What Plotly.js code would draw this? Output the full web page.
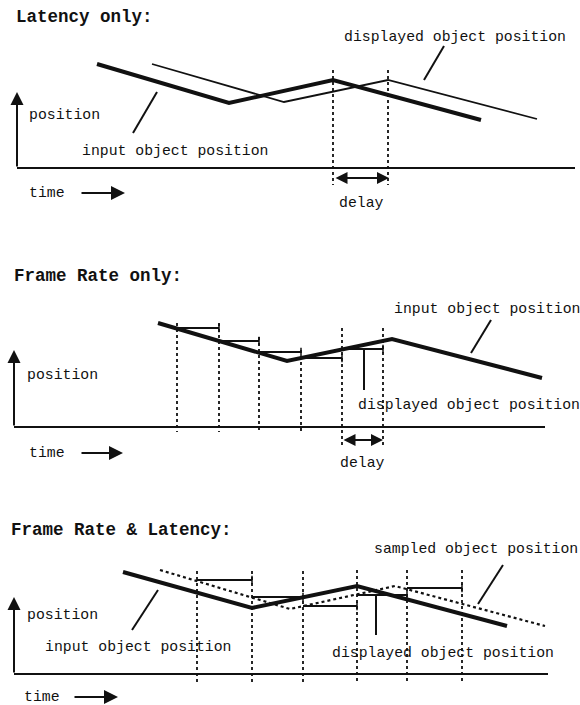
<!DOCTYPE html>
<html><head><meta charset="utf-8">
<script src="https://cdn.plot.ly/plotly-3.0.1.min.js"></script>
<style>html,body{margin:0;padding:0;background:#fff}</style>
</head><body><div id="chart" style="width:580px;height:705px"></div>
<script>
// ---------- DATA (time in x units, position above each panel's time axis) ----------
// Panel 1: Latency only
const latInputT = [97, 229, 333, 481];
const latInputP = [104, 65, 88, 48];
const latDispT  = [152, 284, 388, 537];
const latDispP  = [104, 66, 88, 49];
const latDelayT = [333, 388];
const latDelayTop = [98, 98];

// Panel 2: Frame Rate only
const frInputT = [158, 287, 392, 542];
const frInputP = [104, 66, 88, 49];
const frFrameT = [177, 219, 259, 301, 342, 383];
const frFrameTop = [104, 104, 90, 77, 99, 99];
const frFrameBot = [-5, -5, -5, -5, -18, -18];
const frHeldP  = [99, 86, 75, 69, 78];

// Panel 3: Frame Rate & Latency
const frlInputT = [123, 252, 357, 507];
const frlInputP = [102, 66, 88, 48];
const frlSampT  = [160, 290, 395, 545];
const frlSampP  = [104, 65, 88, 48];
const frlFrameT = [197, 252, 303, 357, 407, 462];
const frlFrameTop = [103, 103, 103, 104, 104, 104];
const frlFrameBot = [-9, -9, -9, -9, -9, -9];
const frlHeldP  = [94, 77, 68, 79, 86];

// Text
const titles = ["Latency only:", "Frame Rate only:", "Frame Rate & Latency:"];
const lblInput = "input object position";
const lblDisp = "displayed object position";
const lblSamp = "sampled object position";
const lblPos = "position";
const lblTime = "time";
const lblDelay = "delay";

// ---------- BUILD ----------
const INK = '#111';
const FONT = 'Liberation Mono, Courier New, monospace';
const traces = [];
function line(x, y, yax, w, dash) {
  traces.push({x, y, yaxis: yax, xaxis: 'x', mode: 'lines', hoverinfo: 'skip',
    line: {color: INK, width: w, dash: dash || 'solid'}});
}
function verticals(t, top, bot, yax) {
  const x = [], y = [];
  t.forEach((v, i) => { x.push(v, v, null); y.push(top[i], bot[i], null); });
  line(x, y, yax, 1.8, 'dot');
}
function steps(t, held, yax) {
  const x = [], y = [], mx = [], my = [];
  held.forEach((v, i) => { x.push(t[i], t[i + 1], null); y.push(v, v, null); mx.push(t[i + 1]); my.push(v); });
  line(x, y, yax, 2);
  traces.push({x: mx, y: my, yaxis: yax, xaxis: 'x', mode: 'markers', hoverinfo: 'skip',
    marker: {symbol: 'line-ns', size: 6, line: {color: INK, width: 1.5}}});
}
function baseline(x0, x1, yax) { line([x0, x1], [0, 0], yax, 2); }

// Panel 1
baseline(17, 575, 'y');
verticals(latDelayT, latDelayTop, [-17, -17], 'y');
line(latDispT, latDispP, 'y', 1.8);
line(latInputT, latInputP, 'y', 4);

// Panel 2
baseline(14, 545, 'y2');
verticals(frFrameT, frFrameTop, frFrameBot, 'y2');
steps(frFrameT, frHeldP, 'y2');
line(frInputT, frInputP, 'y2', 4);

// Panel 3
baseline(14, 548, 'y3');
verticals(frlFrameT, frlFrameTop, frlFrameBot, 'y3');
steps(frlFrameT, frlHeldP, 'y3');
line(frlSampT, frlSampP, 'y3', 2.2, 'dot');
line(frlInputT, frlInputP, 'y3', 4);

// leader lines (shapes)
function leader(x0, y0, x1, y1, yref) {
  return {type: 'line', xref: 'x', yref, x0, y0, x1, y1, line: {color: INK, width: 2}};
}
const shapes = [
  leader(424, 88, 444, 122, 'y'),
  leader(157, 76, 133, 35, 'y'),
  leader(471, 74, 491, 107, 'y2'),
  leader(364, 79, 364, 37, 'y2'),
  leader(158, 84, 132, 44, 'y3'),
  leader(376, 79, 376, 39, 'y3'),
  leader(478, 70, 503, 109, 'y3')
];

// annotations (positions in page pixels)
const py = p => 1 - p / 705;
function txt(text, x, yPix, size, anchor, bold) {
  return {text: bold ? '<b>' + text + '</b>' : text, x, y: py(yPix), xref: 'x', yref: 'paper',
    xanchor: anchor || 'left', yanchor: 'middle', showarrow: false,
    font: {family: FONT, size, color: INK}};
}
function arrow(xh, yh, ax, ay, both, size) {
  return {text: '', x: xh, y: py(yh), xref: 'x', yref: 'paper', ax, ay, axref: 'pixel', ayref: 'pixel',
    showarrow: true, arrowhead: 2, arrowsize: size || 1, arrowwidth: 2, arrowcolor: INK,
    startarrowhead: 2, startarrowsize: size || 1,
    arrowside: both ? 'end+start' : 'end', standoff: 0, startstandoff: 0};
}
const S = 14.8, T = 17.5;
const annotations = [
  txt(titles[0], 14, 17, T, 'left', true),
  txt(titles[1], 12, 276, T, 'left', true),
  txt(titles[2], 9, 530, T, 'left', true),
  // panel 1
  txt(lblPos, 27, 115, S), txt(lblInput, 80, 151, S), txt(lblDisp, 342, 37, S),
  txt(lblTime, 27, 193, S), txt(lblDelay, 361, 203, S, 'center'),
  arrow(17, 92, 0, 76, false, 1.3), arrow(125, 193, -45, 0, false, 1.4), arrow(389, 178, -55, 0, true, 1.2),
  // panel 2
  txt(lblPos, 25, 375, S), txt(lblInput, 392, 309, S), txt(lblDisp, 356, 405, S),
  txt(lblTime, 27, 453, S), txt(lblDelay, 362, 463, S, 'center'),
  arrow(14, 350, 0, 77, false, 1.3), arrow(123, 453, -43, 0, false, 1.4), arrow(383, 440, -41, 0, true, 1.2),
  // panel 3
  txt(lblPos, 25, 615, S), txt(lblInput, 43, 647, S), txt(lblDisp, 330, 653, S),
  txt(lblSamp, 372, 549, S), txt(lblTime, 22, 697, S),
  arrow(14, 597, 0, 77, false, 1.3), arrow(118, 697, -45, 0, false, 1.4)
];

const hidden = {visible: false, fixedrange: true};
const layout = {
  width: 580, height: 705, margin: {l: 0, r: 0, t: 0, b: 0},
  paper_bgcolor: '#fff', plot_bgcolor: '#fff', showlegend: false,
  xaxis: Object.assign({range: [0, 580], domain: [0, 1]}, hidden),
  yaxis: Object.assign({range: [-67, 168], domain: [1 - 235 / 705, 1], anchor: 'x'}, hidden),
  yaxis2: Object.assign({range: [-43, 192], domain: [1 - 470 / 705, 1 - 235 / 705], anchor: 'x'}, hidden),
  yaxis3: Object.assign({range: [-31, 204], domain: [0, 1 - 470 / 705], anchor: 'x'}, hidden),
  shapes, annotations
};
Plotly.newPlot('chart', traces, layout, {staticPlot: true, displayModeBar: false});
</script>
</body></html>
